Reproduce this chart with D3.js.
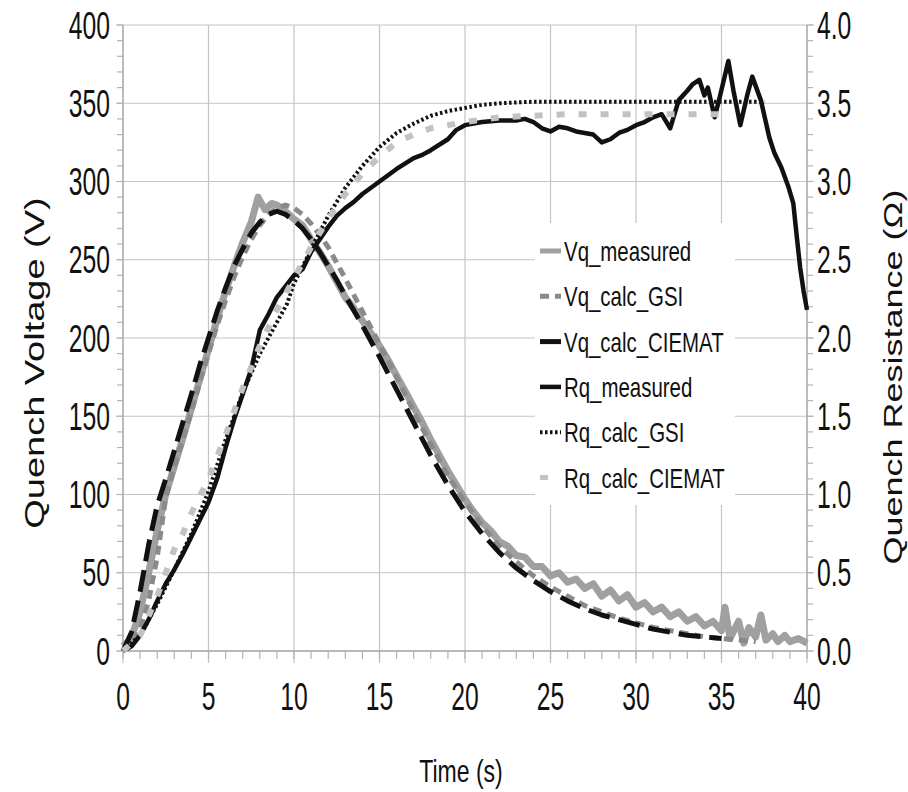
<!DOCTYPE html>
<html>
<head>
<meta charset="utf-8">
<script src="https://cdn.jsdelivr.net/npm/d3@7"></script>
<style>
  body { margin: 0; background: #fff; }
  text { font-family: "Liberation Sans", Arial, sans-serif; fill: #111; }
</style>
</head>
<body>
<svg id="chart"></svg>
<script>
// Quench voltage / resistance vs time

// tick labels
const timeTicks = [0, 5, 10, 15, 20, 25, 30, 35, 40];
const voltTicks = [0, 50, 100, 150, 200, 250, 300, 350, 400];
const resTicks = [0, 0.5, 1.0, 1.5, 2.0, 2.5, 3.0, 3.5, 4.0];

// series: [time (s), value]
const vqMeasured = [[0,3],[0.3,6],[0.6,12],[1,25],[1.5,50],[2,77],[2.5,100],[3,118],[3.5,136],[4,155],[4.5,174],[5,193],[5.5,212],[6,230],[6.5,246],[7,261],[7.5,274],[7.9,290],[8.3,282],[8.7,286],[9,285],[9.5,281],[10,276],[10.5,272],[11,263],[11.5,255],[12,246],[12.5,236],[13,226],[13.5,219],[14,211],[14.5,203],[15,195],[15.5,186],[16,176],[16.5,166],[17,156],[17.5,146],[18,135],[18.5,125],[19,115],[19.5,106],[20,97],[20.5,89],[21,82],[21.5,77],[22,70],[22.5,67],[23,61],[23.5,60],[24,54],[24.5,54],[25,48],[25.5,50],[26,44],[26.5,46],[27,40],[27.5,43],[28,35],[28.5,39],[29,32],[29.5,36],[30,28],[30.5,31],[31,25],[31.5,28],[32,22],[32.5,25],[33,19],[33.5,22],[34,16],[34.5,19],[35,13],[35.2,28],[35.5,8],[36,19],[36.3,5],[36.6,15],[37,9],[37.3,23],[37.6,7],[38,11],[38.3,6],[38.7,10],[39,6],[39.5,8],[40,5]];
const vqCalcGSI = [[0,0],[0.5,4],[1,14],[1.5,32],[2,60],[2.5,98],[3,118],[3.5,135],[4,153],[4.5,172],[5,190],[5.5,208],[6,224],[6.5,239],[7,252],[7.5,263],[8,272],[8.5,279],[9,283],[9.5,285],[10,283],[10.5,279],[11,273],[11.5,266],[12,258],[13,238],[14,217],[15,196],[16,175],[17,153],[18,132],[19,112],[20,95],[21,80],[22,67],[23,57],[24,48],[25,41],[26,35],[27,29],[28,25],[29,21],[30,18],[31,15],[32,13],[33,11],[34,9],[35,8],[36,7],[37,6]];
const vqCalcCIEMAT = [[0,0],[0.5,12],[1,38],[1.5,68],[2,93],[2.5,110],[3,128],[3.5,146],[4,164],[4.5,183],[5,200],[5.5,217],[6,232],[6.5,246],[7,257],[7.5,267],[8,274],[8.5,279],[9,281],[9.5,279],[10,275],[10.5,270],[11,263],[11.5,255],[12,246],[12.5,237],[13,227],[14,208],[15,188],[16,167],[17,146],[18,125],[19,106],[20,89],[21,75],[22,63],[23,53],[24,45],[25,38],[26,32],[27,27],[28,23],[29,20],[30,17],[31,14],[32,12],[33,10],[34,9],[35,8]];
const rqMeasured = [[0,0],[0.5,0.03],[1,0.1],[1.5,0.2],[2,0.32],[2.5,0.43],[3,0.52],[3.5,0.62],[4,0.73],[4.5,0.84],[5,0.95],[5.5,1.1],[6,1.3],[6.5,1.48],[7,1.64],[7.5,1.8],[8,2.05],[8.5,2.15],[9,2.26],[9.5,2.33],[10,2.4],[10.5,2.44],[11,2.55],[11.5,2.63],[12,2.71],[12.5,2.78],[13,2.83],[13.5,2.87],[14,2.92],[15,3.0],[16,3.08],[17,3.15],[17.5,3.17],[18,3.2],[19,3.27],[19.5,3.33],[20,3.36],[21,3.38],[22,3.39],[23,3.39],[23.5,3.4],[24,3.38],[24.5,3.34],[25,3.32],[25.5,3.35],[26,3.34],[26.5,3.32],[27,3.31],[27.5,3.3],[28,3.25],[28.5,3.27],[29,3.31],[29.5,3.33],[30,3.36],[30.5,3.38],[31,3.41],[31.5,3.43],[32,3.34],[32.5,3.52],[33,3.58],[33.3,3.62],[33.7,3.65],[34,3.55],[34.2,3.6],[34.6,3.41],[34.9,3.54],[35.4,3.77],[35.7,3.58],[36.1,3.36],[36.5,3.55],[36.8,3.67],[37.3,3.52],[37.8,3.28],[38.1,3.18],[38.5,3.09],[38.9,2.97],[39.2,2.86],[39.4,2.65],[39.6,2.45],[39.8,2.3],[40,2.18]];
const rqCalcGSI = [[0,0],[1,0.1],[2,0.3],[3,0.52],[4,0.75],[5,1.02],[6,1.35],[7,1.65],[8,1.9],[9,2.1],[9.6,2.22],[10,2.35],[10.8,2.52],[11,2.57],[12,2.78],[13,2.96],[14,3.1],[15,3.22],[16,3.31],[17,3.37],[18,3.42],[19,3.45],[20,3.47],[21,3.49],[22,3.5],[24,3.51],[26,3.51],[28,3.51],[30,3.51],[32,3.51],[34,3.51],[36,3.51],[37.5,3.51]];
const rqCalcCIEMAT = [[0,0],[1,0.1],[2,0.35],[3,0.65],[3.5,0.75],[4,0.88],[5,1.1],[6,1.38],[7,1.68],[8,1.95],[9,2.18],[10,2.38],[11,2.58],[12,2.76],[13,2.92],[14,3.05],[15,3.16],[16,3.25],[17,3.3],[18,3.34],[19,3.36],[20,3.38],[22,3.41],[24,3.42],[26,3.43],[28,3.43],[30,3.43],[32,3.43],[35,3.43]];

const W = 908, H = 792;
const plotL = 123, plotR = 807, plotT = 25, plotB = 651;
const sx = 0.65; // labels look horizontally squeezed

const svg = d3.select("#chart")
  .attr("width", W)
  .attr("height", H)
  .attr("viewBox", [0, 0, W, H]);

svg.append("rect").attr("width", W).attr("height", H).attr("fill", "#fff");

const x = d3.scaleLinear().domain([0, 40]).range([plotL, plotR]);
const yV = d3.scaleLinear().domain([0, 400]).range([plotB, plotT]);
const yR = d3.scaleLinear().domain([0, 4]).range([plotB, plotT]);

// grid
svg.append("g")
  .selectAll("line")
  .data(timeTicks)
  .enter().append("line")
    .attr("x1", d => x(d)).attr("x2", d => x(d))
    .attr("y1", plotT).attr("y2", plotB + 12)
    .attr("stroke", "#c4c4c4").attr("stroke-width", 1.2);

svg.append("g")
  .selectAll("line")
  .data(voltTicks)
  .enter().append("line")
    .attr("x1", plotL - 7).attr("x2", plotR + 7)
    .attr("y1", d => yV(d)).attr("y2", d => yV(d))
    .attr("stroke", "#c4c4c4").attr("stroke-width", 1.2);

// minor ticks
svg.append("g")
  .selectAll("line")
  .data(d3.range(0, 41, 1))
  .enter().append("line")
    .attr("x1", d => x(d)).attr("x2", d => x(d))
    .attr("y1", plotB).attr("y2", plotB + 8)
    .attr("stroke", "#b4b4b4").attr("stroke-width", 1.2);

svg.append("g")
  .selectAll("line")
  .data(d3.range(0, 401, 10))
  .enter().append("line")
    .attr("x1", plotL - 6).attr("x2", plotL)
    .attr("y1", d => yV(d)).attr("y2", d => yV(d))
    .attr("stroke", "#b4b4b4").attr("stroke-width", 1.2);

svg.append("g")
  .selectAll("line")
  .data(d3.range(0, 41, 1).map(d => d / 10))
  .enter().append("line")
    .attr("x1", plotR).attr("x2", plotR + 6)
    .attr("y1", d => yR(d)).attr("y2", d => yR(d))
    .attr("stroke", "#b4b4b4").attr("stroke-width", 1.2);

// axis lines
svg.append("line").attr("x1", plotL).attr("x2", plotL).attr("y1", plotT).attr("y2", plotB)
  .attr("stroke", "#aaa").attr("stroke-width", 1.3);
svg.append("line").attr("x1", plotR).attr("x2", plotR).attr("y1", plotT).attr("y2", plotB)
  .attr("stroke", "#aaa").attr("stroke-width", 1.3);
svg.append("line").attr("x1", plotL).attr("x2", plotR).attr("y1", plotB).attr("y2", plotB)
  .attr("stroke", "#aaa").attr("stroke-width", 1.3);

// tick labels
svg.append("g")
  .selectAll("text")
  .data(timeTicks)
  .enter().append("text")
    .attr("transform", d => `translate(${x(d)},710) scale(${sx},1)`)
    .attr("text-anchor", "middle")
    .style("font-size", "38px")
    .text(d => d);

svg.append("g")
  .selectAll("text")
  .data(voltTicks)
  .enter().append("text")
    .attr("transform", d => `translate(${plotL - 13},${yV(d) + 13.5}) scale(${sx},1)`)
    .attr("text-anchor", "end")
    .style("font-size", "38px")
    .text(d => d);

svg.append("g")
  .selectAll("text")
  .data(resTicks)
  .enter().append("text")
    .attr("transform", d => `translate(${plotR + 10},${yR(d) + 13.5}) scale(${sx},1)`)
    .attr("text-anchor", "start")
    .style("font-size", "38px")
    .text(d3.format(".1f"));

// axis titles
svg.append("text")
  .attr("transform", `translate(461,782) scale(0.72,1)`)
  .attr("text-anchor", "middle")
  .style("font-size", "32px")
  .text("Time (s)");

svg.append("text")
  .attr("transform", `translate(44,363) rotate(-90) scale(1,0.74)`)
  .attr("text-anchor", "middle")
  .style("font-size", "38px")
  .text("Quench Voltage (V)");

svg.append("text")
  .attr("transform", `translate(902,377) rotate(-90) scale(1,0.74)`)
  .attr("text-anchor", "middle")
  .style("font-size", "36px")
  .text("Quench Resistance (\u03A9)");

// series
const styles = [
  { name: "Vq_measured", data: vqMeasured, y: yV, color: "#a0a0a0", width: 7, dash: null },
  { name: "Vq_calc_GSI", data: vqCalcGSI, y: yV, color: "#8a8a8a", width: 5, dash: "9,6" },
  { name: "Vq_calc_CIEMAT", data: vqCalcCIEMAT, y: yV, color: "#111", width: 5, dash: "22,9" },
  { name: "Rq_measured", data: rqMeasured, y: yR, color: "#111", width: 4.5, dash: null },
  { name: "Rq_calc_GSI", data: rqCalcGSI, y: yR, color: "#111", width: 4, dash: "2.5,2.5" },
  { name: "Rq_calc_CIEMAT", data: rqCalcCIEMAT, y: yR, color: "#c2c2c2", width: 6, dash: "8,14" }
];

styles.forEach(s => {
  const line = d3.line()
    .x(d => x(d[0]))
    .y(d => s.y(d[1]));
  svg.append("path")
    .datum(s.data)
    .attr("fill", "none")
    .attr("stroke", s.color)
    .attr("stroke-width", s.width)
    .attr("stroke-linejoin", "round")
    .attr("stroke-dasharray", s.dash)
    .attr("d", line);
});

// legend
const legend = svg.append("g");
legend.append("rect")
  .attr("x", 535).attr("y", 223)
  .attr("width", 200).attr("height", 282)
  .attr("fill", "#fff");

const item = legend.selectAll("g")
  .data(styles)
  .enter().append("g")
    .attr("transform", (d, i) => `translate(540,${251 + i * 45.3})`);

item.append("line")
  .attr("x1", 0).attr("x2", 21)
  .attr("stroke", d => d.color)
  .attr("stroke-width", d => Math.min(d.width, 5))
  .attr("stroke-dasharray", d => d.dash);

item.append("text")
  .attr("transform", `translate(24,10) scale(0.73,1)`)
  .style("font-size", "28px")
  .text(d => d.name);
</script>
</body>
</html>
